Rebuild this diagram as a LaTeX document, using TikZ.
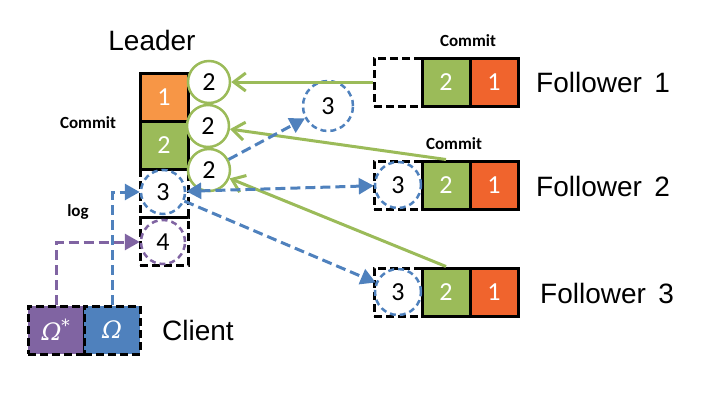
\documentclass[tikz,border=0pt]{standalone}
\usepackage{fontspec}
\setmainfont{Liberation Sans}
\newfontfamily\digitfont{Carlito}
\newfontfamily\omegafont{DejaVu Serif}
\usetikzlibrary{arrows.meta}

\definecolor{ldorange}{RGB}{247,150,70}
\definecolor{fwred}{RGB}{240,100,45}
\definecolor{okgreen}{RGB}{155,187,89}
\definecolor{msgblue}{RGB}{79,129,189}
\definecolor{reqpurple}{RGB}{128,100,162}

\begin{document}
\begin{tikzpicture}[x=1pt,y=-1pt,
        cell/.style={draw, line width=3pt, minimum width=48pt, minimum height=48pt, inner sep=0pt, text=white, font=\digitfont\fontsize{26}{28}\selectfont},
        slot/.style={cell, dash pattern=on 8pt off 4pt, text=black},
        ackcirc/.style={circle, draw=okgreen, fill=white, line width=2.5pt, minimum size=42pt, inner sep=0pt, font=\digitfont\fontsize{26}{28}\selectfont},
        logcirc/.style={circle, line width=2.5pt, dash pattern=on 6pt off 4pt, minimum size=44pt, inner sep=0pt, font=\digitfont\fontsize{26}{28}\selectfont},
        ack/.style={draw=okgreen, line width=3pt, -{Straight Barb[length=12pt,width=18pt]}},
        msg/.style={draw=msgblue, line width=3pt, dash pattern=on 10pt off 5pt},
        tip/.tip={Triangle[length=15pt,width=16pt]},
        tag/.style={font=\digitfont\bfseries\fontsize{17}{19}\selectfont},
        title/.style={inner sep=0pt, font=\fontsize{28}{32}\selectfont}]

        \useasboundingbox (0,0) rectangle (721,407);

        % leader log
        \node[title] (leader) at (152,40) {Leader};
        \node[cell, fill=ldorange] (lead1) at (164,97) {1};
        \node[cell, fill=okgreen] (lead2) at (164,145) {2};
        \node[slot] (lead3) at (164,193) {};
        \node[slot] (lead4) at (164,241) {};
        \node[logcirc, draw=msgblue] (l3circ) at (163,192) {3};
        \node[logcirc, draw=reqpurple] (l4circ) at (163,242) {4};
        \node[tag] (leadcommit) at (88,123) {Commit};
        \node[tag] (leadlog) at (78,212) {log};

        \node[ackcirc] (c2a) at (209,82) {2};
        \node[ackcirc] (c2b) at (208,126) {2};
        \node[ackcirc] (c2c) at (209,170) {2};

        \node[logcirc, draw=msgblue, minimum size=50pt] (m3circ) at (328,106) {3};

        % followers
        \node[slot] (f1slot) at (398,82) {};
        \node[cell, fill=okgreen] (f1green) at (446,82) {2};
        \node[cell, fill=fwred] (f1red) at (494,82) {1};
        \node[title, anchor=west] (f1name) at (536,82) {Follower\, 1};
        \node[tag] (f1commit) at (468,41) {Commit};

        \node[slot] (f2slot) at (398,185) {};
        \node[cell, fill=okgreen] (f2green) at (446,185) {2};
        \node[cell, fill=fwred] (f2red) at (494,185) {1};
        \node[logcirc, draw=msgblue, minimum size=46pt] (f2circ) at (398,185) {3};
        \node[title, anchor=west] (f2name) at (536,186) {Follower\, 2};
        \node[tag] (f2commit) at (454,144) {Commit};

        \node[slot] (f3slot) at (398,292) {};
        \node[cell, fill=okgreen] (f3green) at (446,292) {2};
        \node[cell, fill=fwred] (f3red) at (494,292) {1};
        \node[logcirc, draw=msgblue, minimum size=46pt] (f3circ) at (398,292) {3};
        \node[title, anchor=west] (f3name) at (540,293) {Follower\, 3};

        % client
        \node[slot, minimum width=56pt, fill=reqpurple, text=white, font=\omegafont\itshape\fontsize{24}{26}\selectfont] (omegastar) at (56,330) {Ω\textsuperscript{*}};
        \node[slot, minimum width=56pt, fill=msgblue, text=white, font=\omegafont\itshape\fontsize{24}{26}\selectfont] (omega) at (112,330) {Ω};
        \node[title, anchor=west] (client) at (162,330) {Client};

        \draw[ack] (f1slot.west) -- (c2a);
        \draw[ack] (f2green.north) -- (c2b);
        \draw[ack] (f3green.north) -- (c2c);

        \draw[msg, -tip] (c2c) -- (m3circ);
        \draw[msg, tip-tip] (l3circ) -- (f2circ);
        \draw[msg, -tip] (l3circ) -- (f3circ);
        \draw[msg, -tip] (omega.north) |- (l3circ.west);
        \draw[msg, draw=reqpurple, -tip] (omegastar.north) |- (l4circ.west);

    \end{tikzpicture}
\end{document}
